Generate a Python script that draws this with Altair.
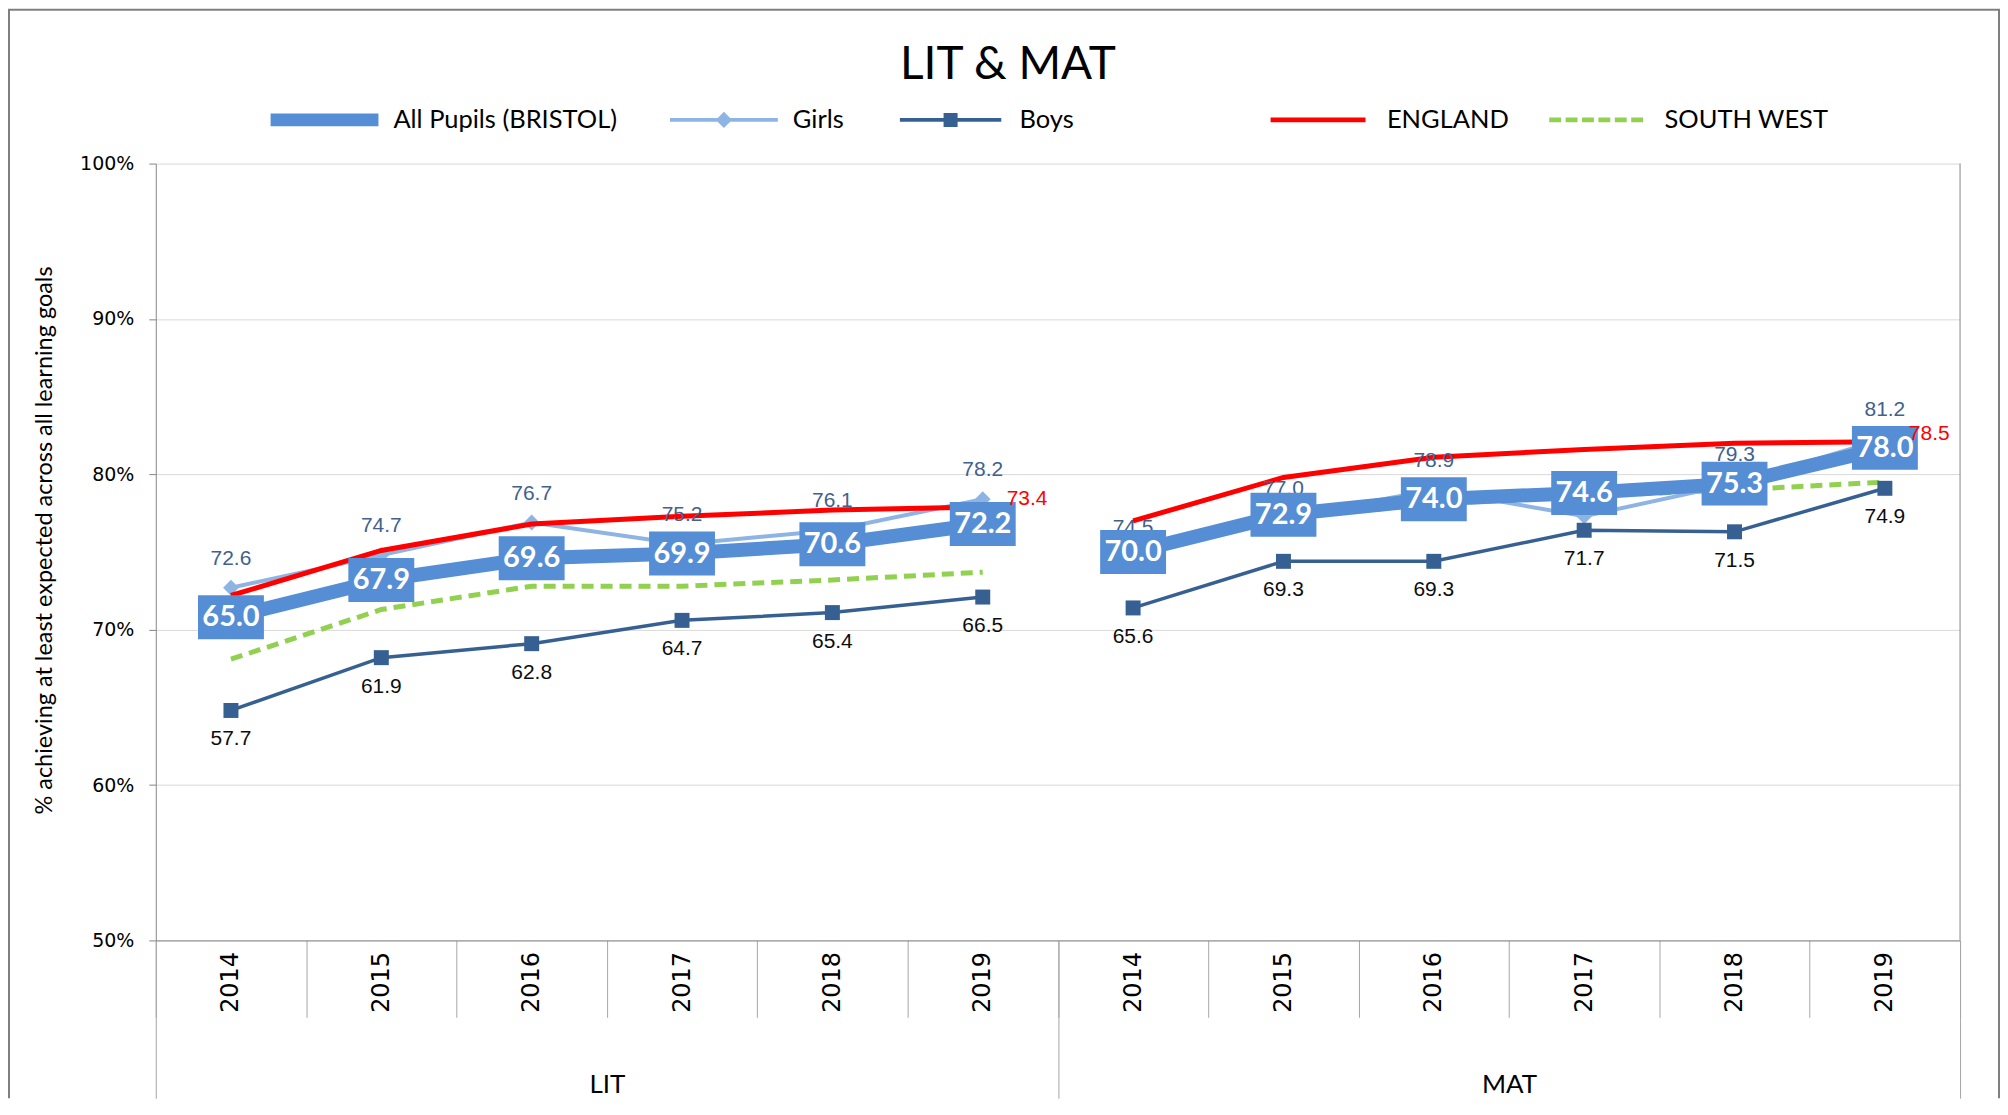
import altair as alt
import pandas as pd

# ---------------- data ----------------
subjects = ["LIT", "MAT"]
years = ["2014", "2015", "2016", "2017", "2018", "2019"]
series_names = ["All Pupils (BRISTOL)", "Girls", "Boys", "ENGLAND", "SOUTH WEST"]
series_colors = ["#558ED5", "#8EB4E3", "#376092", "#FF0000", "#92D050"]

# plotted positions: LIT 2014..2019 then MAT 2014..2019
all_pos = [70.8, 73.2, 74.6, 74.9, 75.5, 76.8, 75.0, 77.4, 78.4, 78.8, 79.4, 81.7]
girls_pos = [72.7, 74.8, 76.9, 75.5, 76.4, 78.4, 74.7, 77.2, 79.0, 77.3, 79.4, 82.3]
boys_pos = [64.8, 68.2, 69.1, 70.6, 71.1, 72.1, 71.4, 74.4, 74.4, 76.4, 76.3, 79.1]
eng_pos = [72.2, 75.1, 76.8, 77.3, 77.7, 77.9, 77.0, 79.8, 81.1, 81.6, 82.0, 82.1]
sw_pos = [68.1, 71.3, 72.8, 72.8, 73.2, 73.7, 74.8, 77.2, 78.1, 78.6, 79.0, 79.5]

# data labels shown on the chart
all_lbl = [65.0, 67.9, 69.6, 69.9, 70.6, 72.2, 70.0, 72.9, 74.0, 74.6, 75.3, 78.0]
girls_lbl = [72.6, 74.7, 76.7, 75.2, 76.1, 78.2, 74.5, 77.0, 78.9, 77.5, 79.3, 81.2]
boys_lbl = [57.7, 61.9, 62.8, 64.7, 65.4, 66.5, 65.6, 69.3, 69.3, 71.7, 71.5, 74.9]
eng_lbl = [None, None, None, None, None, 73.4, None, None, None, None, None, 78.5]
sw_lbl = [None] * 12

keys = [f"{s} {y}" for s in subjects for y in years]

rows = []
for name, pos, lbl in [
    (series_names[0], all_pos, all_lbl),
    (series_names[1], girls_pos, girls_lbl),
    (series_names[2], boys_pos, boys_lbl),
    (series_names[3], eng_pos, eng_lbl),
    (series_names[4], sw_pos, sw_lbl),
]:
    for i, k in enumerate(keys):
        rows.append({
            "series": name,
            "subject": k.split(" ")[0],
            "key": k,
            "value": pos[i],
            "label": "" if lbl[i] is None else f"{lbl[i]:.1f}",
        })
df = pd.DataFrame(rows)

# ---------------- layout ----------------
W, H = 1807, 778
PAD = {"left": 148, "top": 155, "right": 40, "bottom": 158}

xscale = alt.Scale(type="band", domain=keys, paddingInner=0, paddingOuter=0)
yscale = alt.Scale(domain=[50, 100], nice=False, zero=False)

x_axis = alt.Axis(
    title=None, labelExpr="slice(datum.label, 4)", labelAngle=270,
    labelAlign="right", labelBaseline="middle", labelFont="DejaVu Sans",
    labelFontSize=24, labelColor="#000000", labelPadding=-66, labelOverlap=False,
    tickBand="extent", tickSize=77, tickColor="#A6A6A6", tickWidth=1,
    domainColor="#868686", domainWidth=1, grid=False,
)
y_axis = alt.Axis(
    values=[50, 60, 70, 80, 90, 100], labelExpr="datum.value + '%'",
    grid=True, gridColor="#D9D9D9", gridWidth=1,
    domainColor="#868686", tickColor="#868686", tickSize=7,
    labelFont="DejaVu Sans", labelFontSize=19, labelColor="#000000", labelPadding=15,
    title="% achieving at least expected across all learning goals",
    titleFont="Lato", titleFontSize=23.5, titleFontWeight="normal", titleColor="#000000",
    titleX=-111, titleY=377, titleAngle=270, titleAlign="center", titleBaseline="middle",
)

base = alt.Chart(df).encode(
    x=alt.X("key:N", scale=xscale, axis=x_axis),
    y=alt.Y("value:Q", scale=yscale, axis=y_axis),
)


def only(name):
    return base.transform_filter(alt.datum.series == name)


AP, GI, BO, EN, SW = series_names
LABEL_FONT = "Liberation Sans"

sw_line = only(SW).mark_line(color="#92D050", strokeWidth=5, strokeDash=[12, 7]).encode(detail="subject:N")
girls_line = only(GI).mark_line(color="#8EB4E3", strokeWidth=4).encode(detail="subject:N")
girls_pts = only(GI).mark_point(shape="diamond", size=250, filled=True, opacity=1, color="#8EB4E3", strokeWidth=0)
eng_line = only(EN).mark_line(color="#FF0000", strokeWidth=5).encode(detail="subject:N")
boys_line = only(BO).mark_line(color="#376092", strokeWidth=3.5).encode(detail="subject:N")
boys_pts = only(BO).mark_point(shape="square", size=225, filled=True, opacity=1, color="#376092", strokeWidth=0)
all_line = only(AP).mark_line(color="#558ED5", strokeWidth=14, strokeJoin="round").encode(detail="subject:N")

girls_txt = only(GI).mark_text(dy=-29, font=LABEL_FONT, fontSize=21, color="#41618E").encode(text="label:N")
boys_txt = only(BO).mark_text(dy=29, font=LABEL_FONT, fontSize=21, color="#0D0D0D").encode(text="label:N")
eng_txt = only(EN).mark_text(dx=24, dy=-8, align="left", font=LABEL_FONT, fontSize=21, color="#FF0000").encode(text="label:N")

boxes = only(AP).mark_point(shape="M-1.5,-1L1.5,-1L1.5,1L-1.5,1Z", size=1936, filled=True,
                            opacity=1, color="#558ED5", strokeWidth=0)
box_txt = only(AP).mark_text(font="Lato", fontWeight="bold", fontSize=29, color="#FFFFFF").encode(text="label:N")


# legend symbols (unit paths; x in -1..1 spans the symbol slot)
def bar(half_len, half_thk):
    return f"M{-half_len},{-half_thk}L{half_len},{-half_thk}L{half_len},{half_thk}L{-half_len},{half_thk}Z"


legend_paths = [
    bar(1, 0.12),
    bar(1, 0.035) + " M-0.15,0L0,-0.15L0.15,0L0,0.15Z",
    bar(0.94, 0.035) + " M-0.13,-0.13L0.13,-0.13L0.13,0.13L-0.13,0.13Z",
    bar(0.88, 0.045),
    " ".join(
        f"M{x0:.3f},-0.045L{x0 + 0.22:.3f},-0.045L{x0 + 0.22:.3f},0.045L{x0:.3f},0.045Z"
        for x0 in [-0.86 + k * 0.304 for k in range(6)]
    ),
]
SYM = 108 * 108


def make_legend(x, gap):
    return alt.Legend(
        title=None, orient="none", legendX=x, legendY=-98, direction="horizontal",
        symbolSize=SYM, symbolStrokeWidth=0, symbolOpacity=1,
        labelFont="Lato", labelFontSize=25.5, labelColor="#000000", labelOffset=15,
        columnPadding=gap, padding=0, labelLimit=2000,
    )


def legend_layer(idx, x, gap):
    names = [series_names[i] for i in idx]
    leg = make_legend(x, gap)
    return alt.Chart(pd.DataFrame({"series": names})).mark_point(
        filled=True, opacity=1, size=SYM, strokeWidth=0, clip=True
    ).encode(
        x=alt.value(0), y=alt.value(-3000),
        color=alt.Color("series:N", scale=alt.Scale(domain=names, range=[series_colors[i] for i in idx]), legend=leg),
        shape=alt.Shape("series:N", scale=alt.Scale(domain=names, range=[legend_paths[i] for i in idx]), legend=leg),
    )


legend_bristol = legend_layer([0, 1, 2], 115, 53)
legend_regions = legend_layer([3, 4], 1110, 32)

# group axis (LIT / MAT)
group_axis = alt.Axis(
    orient="bottom", title=None, tickBand="extent", tickSize=158, tickColor="#A6A6A6",
    domain=False, grid=False, labelAngle=0, labelFont="Lato", labelFontSize=26,
    labelColor="#000000", labelPadding=-27, labelOverlap=False,
)
group_layer = alt.Chart(pd.DataFrame({"subject": subjects})).mark_point(opacity=0).encode(
    x=alt.X("subject:N", scale=alt.Scale(type="band", domain=subjects, paddingInner=0, paddingOuter=0),
            axis=group_axis),
    y=alt.value(0),
)

# decorations: plot right border and outer chart frame
one = pd.DataFrame({"k": [0]})
right_border = alt.Chart(one).mark_rule(color="#868686", strokeWidth=1).encode(
    x=alt.value(W), y=alt.value(0), y2=alt.value(H))
frame_left = alt.Chart(one).mark_rule(color="#7F7F7F", strokeWidth=2).encode(
    x=alt.value(-147), y=alt.value(-154), y2=alt.value(H + 158))
frame_top = alt.Chart(one).mark_rule(color="#7F7F7F", strokeWidth=2).encode(
    x=alt.value(-148), x2=alt.value(W + 40), y=alt.value(-154))
frame_right = alt.Chart(one).mark_rule(color="#7F7F7F", strokeWidth=2).encode(
    x=alt.value(W + 39), y=alt.value(-154), y2=alt.value(H + 158))

inner = alt.layer(
    sw_line, girls_line, girls_pts, eng_line, boys_line, boys_pts, all_line,
    girls_txt, boys_txt, boxes, box_txt, eng_txt, legend_bristol, legend_regions, right_border,
).resolve_scale(color="independent", shape="independent")

chart = alt.layer(inner, group_layer, frame_left, frame_top, frame_right).resolve_scale(
    x="independent"
).properties(
    width=W, height=H, padding=PAD,
    autosize=alt.AutoSizeParams(type="none"),
    title=alt.TitleParams("LIT & MAT", font="Lato", fontSize=46, fontWeight="normal",
                          color="#000000", anchor="middle", frame="group", offset=0,
                          dx=-50, dy=116, baseline="alphabetic"),
).configure_view(strokeWidth=0)

chart.save("out.html", embed_options={"renderer": "svg", "actions": False})
